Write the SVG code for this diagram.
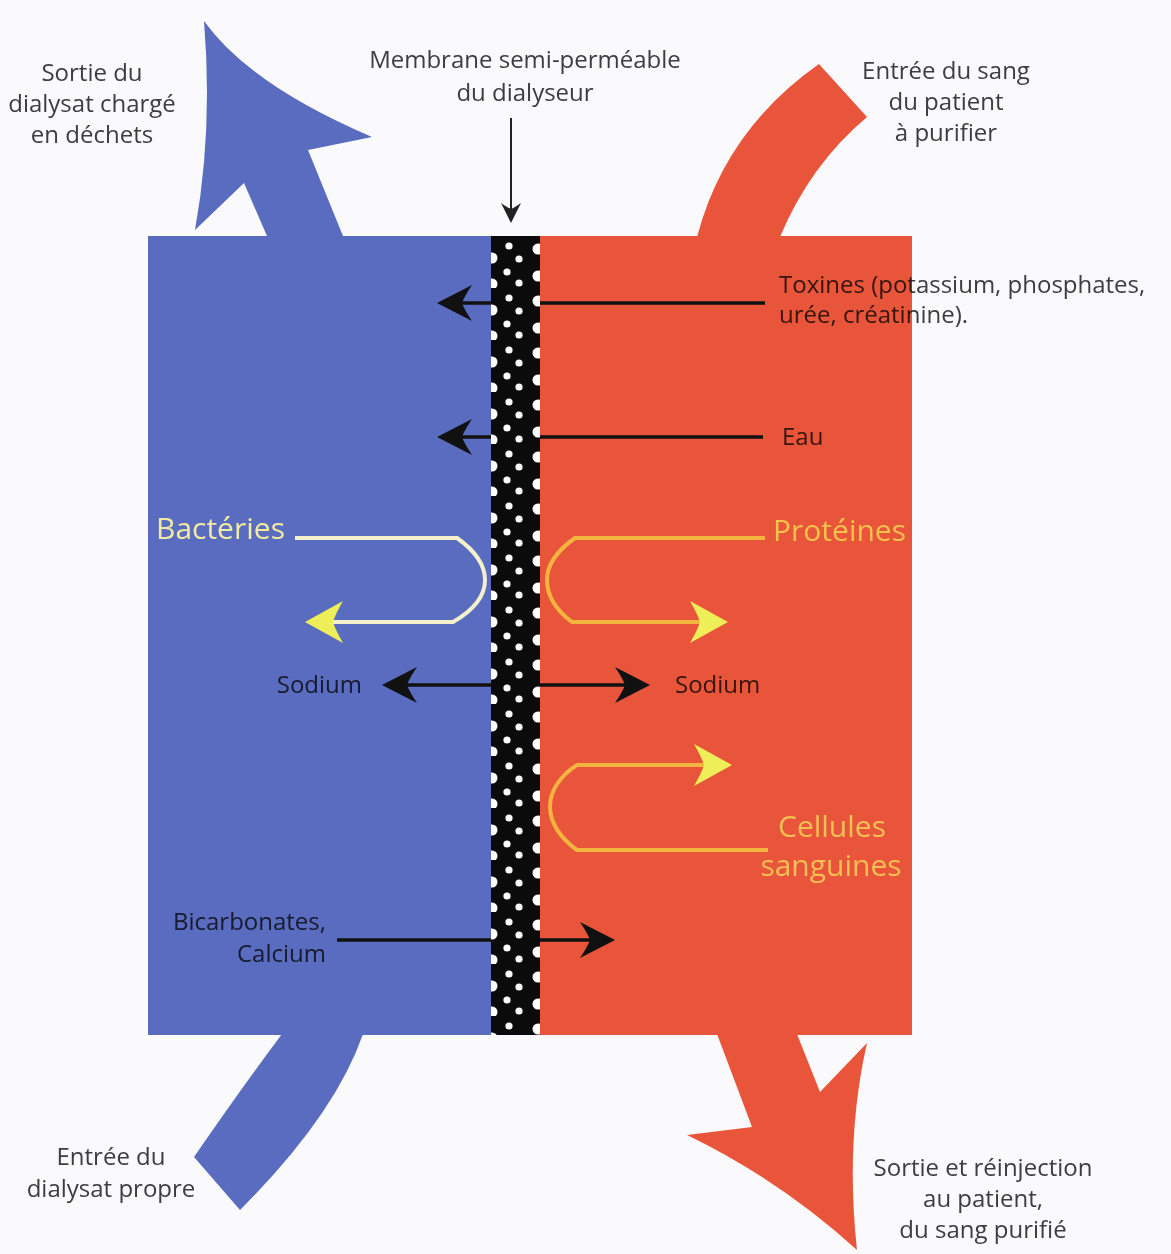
<svg xmlns="http://www.w3.org/2000/svg" width="1171" height="1254" viewBox="0 0 1171 1254">
  <style>
    .lbl { font-family: "Open Sans", "Noto Sans", "Liberation Sans", sans-serif; font-size: 24px; fill: #3e3e3e; mix-blend-mode: multiply; }
    .mid { text-anchor: middle; }
    .end { text-anchor: end; }
    .big { font-family: "Open Sans", "Noto Sans", "Liberation Sans", sans-serif; font-size: 30px; }
    .blk { fill: none; stroke: #111; stroke-width: 3.5; }
    .loop { fill: none; stroke-width: 4; }
  </style>
  <defs>
    <!-- barbed heads, anchored at the notch -->
    <marker id="headBlack" viewBox="0 -19 35 38" markerWidth="35" markerHeight="38" refX="10" refY="0" orient="auto" markerUnits="userSpaceOnUse">
      <path d="M35,0 L0,-18 Q8,-6 10,0 Q8,6 0,18 Z" fill="#111"/>
    </marker>
    <marker id="headSmall" viewBox="0 -10 20 20" markerWidth="20" markerHeight="20" refX="6" refY="0" orient="auto" markerUnits="userSpaceOnUse">
      <path d="M20,0 L0,-10 Q5,-3 6,0 Q5,3 0,10 Z" fill="#222"/>
    </marker>
    <marker id="headYellow" viewBox="0 -22 38 44" markerWidth="38" markerHeight="44" refX="10" refY="0" orient="auto" markerUnits="userSpaceOnUse">
      <path d="M38,0 L0,-21 Q8,-7 10,0 Q8,7 0,21 Z" fill="#eeee58"/>
    </marker>
    <!-- porous membrane texture -->
    <pattern id="pores" x="491" y="236" width="49" height="52" patternUnits="userSpaceOnUse">
      <rect width="49" height="52" fill="#0b0b0b"/>
      <circle cx="1" cy="22" r="5.5" fill="#fff"/>
      <circle cx="1" cy="48" r="5.5" fill="#fff"/>
      <circle cx="47" cy="13" r="5.5" fill="#fff"/>
      <circle cx="47" cy="40" r="5.5" fill="#fff"/>
      <circle cx="18" cy="10" r="3.6" fill="#fff"/>
      <circle cx="28" cy="23" r="3.6" fill="#fff"/>
      <circle cx="16" cy="36" r="3.6" fill="#fff"/>
      <circle cx="28" cy="47" r="3.6" fill="#fff"/>
    </pattern>
  </defs>

  <rect width="1171" height="1254" fill="#fafafc"/>

  <!-- dialysate side (blue) -->
  <g id="dialysate">
    <rect x="148" y="236" width="345" height="799" fill="#5a6cbf"/>
    <!-- outgoing dialysate, arrow up -->
    <path d="M267,236 L244,183 L195,230 Q213,130 204,21 Q250,85 372,137 L308,150 L343,236 Z" fill="#5a6cbf"/>
    <!-- incoming dialysate band -->
    <path d="M282,1034 Q240,1090 194,1157 L240,1210 Q335,1115 363,1034 Z" fill="#5a6cbf"/>
  </g>

  <!-- blood side (red) -->
  <g id="blood">
    <rect x="539" y="236" width="373" height="799" fill="#e8553a"/>
    <!-- incoming blood band -->
    <path d="M697,237 Q725,130 819,64 L867,117 Q810,165 780,237 Z" fill="#e8553a"/>
    <!-- outgoing blood, arrow down -->
    <path d="M717,1034 L752,1127 L687,1135 Q780,1180 857,1250 Q845,1140 867,1043 L820,1092 L797,1034 Z" fill="#e8553a"/>
  </g>

  <!-- exchanges across the membrane -->
  <g id="connectors">
    <path class="blk" d="M765,303 H462" marker-end="url(#headBlack)"/>
    <path class="blk" d="M763,437 H462" marker-end="url(#headBlack)"/>
    <path class="blk" d="M491,685 H407" marker-end="url(#headBlack)"/>
    <path class="blk" d="M540,685 H625" marker-end="url(#headBlack)"/>
    <path class="blk" d="M337,940 H590" marker-end="url(#headBlack)"/>
    <path d="M511,118 V209" fill="none" stroke="#222" stroke-width="2" marker-end="url(#headSmall)"/>
    <path class="loop" stroke="#f4f0cc" d="M295,538 H457 C474,550 485,565 485,580 C485,596 474,610 453,622 H333" marker-end="url(#headYellow)"/>
    <path class="loop" stroke="#f4b43e" d="M765,538 H575 C558,550 547,565 547,580 C547,596 556,610 572,622 H700" marker-end="url(#headYellow)"/>
    <path class="loop" stroke="#f4b43e" d="M768,850 H577 C560,838 550,822 550,807 C550,791 560,776 577,765 H704" marker-end="url(#headYellow)"/>
  </g>

  <!-- semi-permeable membrane -->
  <g id="membrane">
    <rect x="491" y="236" width="49" height="799" fill="url(#pores)"/>
  </g>

  <g id="labels">
    <text class="lbl mid" x="525" y="68">Membrane semi-perméable</text>
    <text class="lbl mid" x="525" y="101">du dialyseur</text>

    <text class="lbl mid" x="92" y="81">Sortie du</text>
    <text class="lbl mid" x="92" y="112">dialysat chargé</text>
    <text class="lbl mid" x="92" y="143">en déchets</text>

    <text class="lbl mid" x="946" y="79">Entrée du sang</text>
    <text class="lbl mid" x="946" y="110">du patient</text>
    <text class="lbl mid" x="946" y="141">à purifier</text>

    <text class="lbl" x="779" y="293">Toxines (potassium, phosphates,</text>
    <text class="lbl" x="779" y="323">urée, créatinine).</text>
    <text class="lbl" x="782" y="445">Eau</text>

    <text class="lbl end" x="362" y="693">Sodium</text>
    <text class="lbl" x="675" y="693">Sodium</text>

    <text class="lbl end" x="326" y="930">Bicarbonates,</text>
    <text class="lbl end" x="326" y="962">Calcium</text>

    <text class="lbl mid" x="111" y="1165">Entrée du</text>
    <text class="lbl mid" x="111" y="1197">dialysat propre</text>

    <text class="lbl mid" x="983" y="1176">Sortie et réinjection</text>
    <text class="lbl mid" x="983" y="1207">au patient,</text>
    <text class="lbl mid" x="983" y="1238">du sang purifié</text>

    <text class="big" x="156" y="539" fill="#f1eaa2">Bactéries</text>
    <text class="big" x="773" y="541" fill="#f7c24c">Protéines</text>
    <text class="big mid" x="832" y="837" fill="#f5bf55">Cellules</text>
    <text class="big mid" x="831" y="876" fill="#f5bf55">sanguines</text>
  </g>
</svg>
